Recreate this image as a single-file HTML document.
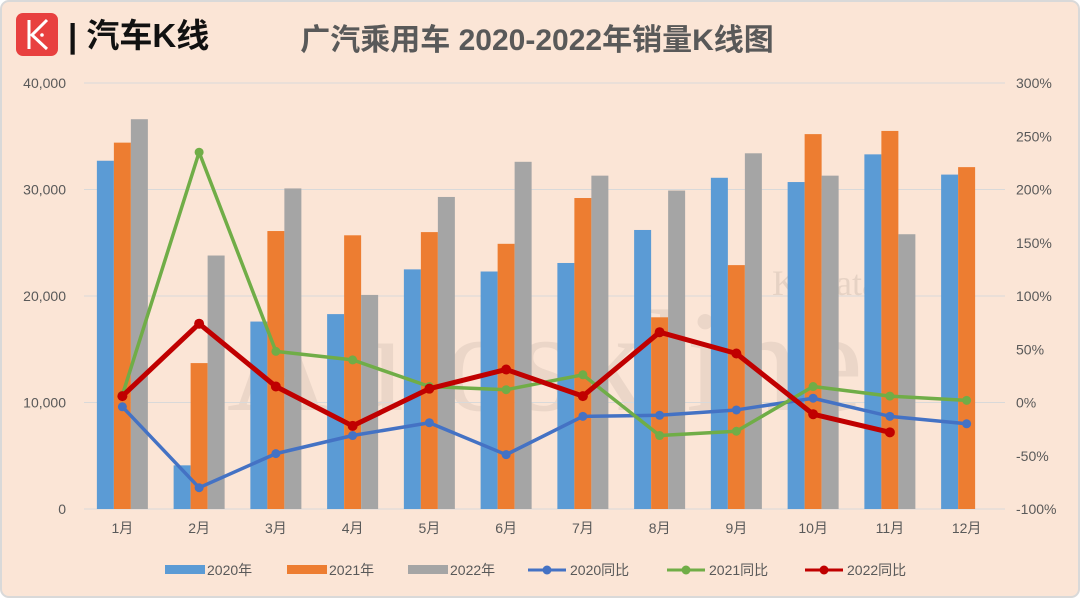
<!DOCTYPE html>
<html><head><meta charset="utf-8"><style>
body{margin:0;background:#fff}
svg{display:block}
text{font-family:"Liberation Sans","Noto Sans CJK SC",sans-serif}
text.serif{font-family:"Liberation Serif","Noto Serif CJK SC",serif}
</style></head><body>
<svg id="c" width="1080" height="598">
<rect x="1" y="1" width="1078" height="596" rx="8" fill="#FBE5D6" stroke="#d9d9d9" stroke-width="2"/>
<g>
<rect x="16" y="13" width="42" height="43" rx="7" fill="#e8403f"/>
<path d="M29 20 V49 M47 20 L32 35 L47 49" stroke="#fff" stroke-width="3" fill="none"/>
<circle cx="42" cy="35" r="1.8" fill="#fff"/>
<text x="68" y="47" font-size="33" font-weight="bold" fill="#111">| 汽车K线</text>
</g>
<text x="537" y="50" text-anchor="middle" font-size="30" font-weight="bold" fill="#595959">广汽乘用车 2020-2022年销量K线图</text>
<text class="serif" x="545" y="410" text-anchor="middle" font-size="145" fill="#000" opacity="0.06">Autoskline</text>
<text class="serif" x="825" y="295" text-anchor="middle" font-size="36" fill="#000" opacity="0.08">K·Data</text>
<g id="grid"></g><g id="bars"></g><g id="lines"></g><g id="axes"></g><g id="legend"></g>
</svg>
<script>
const months=['1月','2月','3月','4月','5月','6月','7月','8月','9月','10月','11月','12月'];
const sales2020=[32700,4100,17600,18300,22500,22300,23100,26200,31100,30700,33300,31400];
const sales2021=[34400,13700,26100,25700,26000,24900,29200,18000,22900,35200,35500,32100];
const sales2022=[36600,23800,30100,20100,29300,32600,31300,29900,33400,31300,25800];
const yoy2020=[-4,-80,-48,-31,-19,-49,-13,-12,-7,4,-13,-20];
const yoy2021=[7,235,48,40,15,12,26,-31,-27,15,6,2];
const yoy2022=[6,74,15,-22,13,31,6,66,46,-11,-28];
const leftTicks=[0,10000,20000,30000,40000];
const rightTicks=[-100,-50,0,50,100,150,200,250,300];
const NS='http://www.w3.org/2000/svg';
const X0=84,X1=1005,Y0=509,Y1=83;
const cw=(X1-X0)/12;
const yL=v=>Y0-(v/40000)*(Y0-Y1);
const yR=v=>Y0-((v+100)/400)*(Y0-Y1);
const xc=i=>X0+cw*(i+0.5);
function mk(tag,attrs,parent,txt){const e=document.createElementNS(NS,tag);for(const k in attrs)e.setAttribute(k,attrs[k]);if(txt!==undefined)e.textContent=txt;document.getElementById(parent).appendChild(e);return e;}
leftTicks.forEach(t=>{
 const l=mk('line',{x1:X0,x2:X1,y1:yL(t),y2:yL(t),stroke:'#d9d9d9','stroke-width':1},'grid');
 
 
 const tx=mk('text',{x:66,y:yL(t)+5,'text-anchor':'end','font-size':14,fill:'#595959'},'axes',t.toLocaleString('en-US'));
 
 
});
rightTicks.forEach(t=>{
 const tx=mk('text',{x:1016,y:yR(t)+5,'font-size':14,fill:'#595959'},'axes',t+'%');
 
 
});
months.forEach((m,i)=>{
 const tx=mk('text',{x:xc(i),y:533,'text-anchor':'middle','font-size':14,fill:'#595959'},'axes',m);
 
 
});
const bw=17;
[[sales2020,'#5B9BD5',-1.5],[sales2021,'#ED7D31',-0.5],[sales2022,'#A5A5A5',0.5]].forEach(([arr,col,off],s)=>{
 arr.forEach((v,i)=>{
  const r=mk('rect',{x:xc(i)+off*bw,y:yL(v),width:bw,height:Y0-yL(v),fill:col},'bars');
  
  
 });
});
[[yoy2020,'#4472C4'],[yoy2021,'#70AD47'],[yoy2022,'#C00000']].forEach(([arr,col],s)=>{
 const w=s==2?5:3.5;
 const p=mk('polyline',{points:arr.map((v,i)=>xc(i)+','+yR(v)).join(' '),fill:'none',stroke:col,'stroke-width':w,'stroke-linejoin':'round'},'lines');
 
 
 arr.forEach((v,i)=>{
  const c=mk('circle',{cx:xc(i),cy:yR(v),r:s==2?5:4.5,fill:col},'lines');
  
  
 });
});
const leg=[['2020年','#5B9BD5','bar',165],['2021年','#ED7D31','bar',287],['2022年','#A5A5A5','bar',408],['2020同比','#4472C4','line',528],['2021同比','#70AD47','line',667],['2022同比','#C00000','line',805]];
leg.forEach(([t,c,k,x])=>{
 if(k=='bar'){const r=mk('rect',{x:x,y:565,width:40,height:9,fill:c},'legend');}
 else{const l=mk('line',{x1:x,x2:x+38,y1:570,y2:570,stroke:c,'stroke-width':3},'legend');
  const cc=mk('circle',{cx:x+19,cy:570,r:4.5,fill:c},'legend');}
 const tx=mk('text',{x:x+42,y:575,'font-size':14,fill:'#595959'},'legend',t);
 
 
});
</script>
</body></html>
